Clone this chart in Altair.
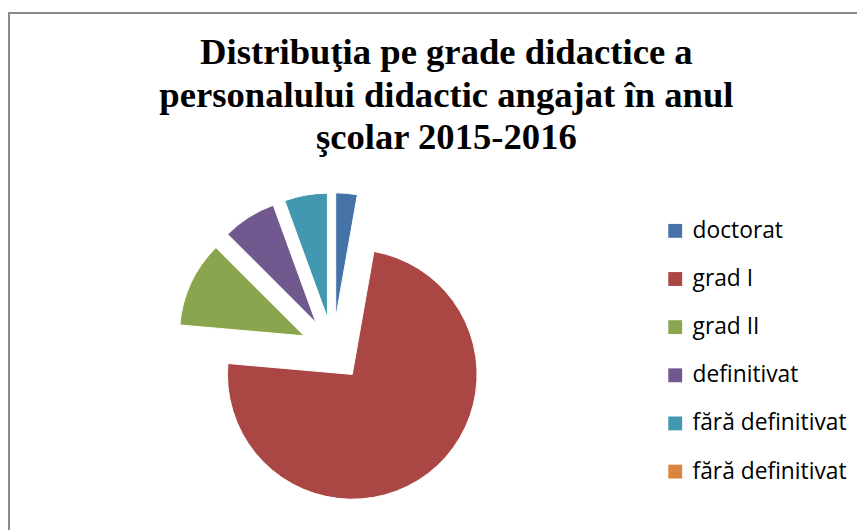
import json
import altair as alt
import pandas as pd

# ---- data ----
names = ["doctorat", "grad I", "grad II", "definitivat", "fără definitivat", "fără definitivat"]
values = [4, 106, 16, 10, 8, 0]
colors = ["#4572A7", "#AA4643", "#89A54E", "#71588F", "#4198AF", "#DB843D"]
title_lines = ["Distribuţia pe grade didactice a",
               "personalului didactic angajat în anul",
               "şcolar 2015-2016"]

keys = [f"k{i}" for i in range(len(names))]
df = pd.DataFrame({"key": keys, "name": names, "value": values, "order": list(range(len(names)))})

W, H = 857, 522
CX, CY, R, EXPLODE = 328, 342, 126, 32

label_expr = f"{json.dumps(names, ensure_ascii=False)}[indexof({json.dumps(keys)}, datum.value)]"

pie = (
    alt.Chart(df)
    .transform_joinaggregate(total="sum(value)")
    .transform_window(cum="sum(value)", sort=[alt.SortField("order")], frame=[None, 0])
    .transform_calculate(
        t1="2*PI*datum.cum/datum.total",
        t0="2*PI*(datum.cum-datum.value)/datum.total",
    )
    .transform_calculate(mid="(datum.t0+datum.t1)/2")
    .transform_calculate(
        px=f"{CX}+{EXPLODE}*sin(datum.mid)",
        py=f"{CY}-{EXPLODE}*cos(datum.mid)",
    )
    .mark_arc(radius=R, stroke="white", strokeWidth=1)
    .encode(
        theta=alt.Theta("t0:Q", scale=None, stack=None),
        theta2="t1:Q",
        x=alt.X("px:Q", scale=None, axis=None),
        y=alt.Y("py:Q", scale=None, axis=None),
        color=alt.Color(
            "key:N",
            scale=alt.Scale(domain=keys, range=colors),
            legend=alt.Legend(
                title=None,
                orient="none",
                legendX=662,
                legendY=211,
                symbolType="square",
                symbolSize=196,
                symbolStrokeWidth=0,
                labelFont="Open Sans",
                labelFontSize=23,
                labelColor="#000000",
                labelLimit=300,
                rowPadding=24.6,
                labelOffset=6,
                padding=0,
                labelExpr=label_expr,
            ),
        ),
        order=alt.Order("order:Q"),
    )
)

border = (
    alt.Chart(alt.Data(values=[{"a": 1}]))
    .mark_rect(fill="white", fillOpacity=0, stroke="#8a8a8a", strokeWidth=2)
    .encode(x=alt.value(1), y=alt.value(2.5), x2=alt.value(1200), y2=alt.value(1200))
)

chart = (
    alt.layer(border, pie)
    .properties(
        width=W,
        height=H,
        autosize=alt.AutoSizeParams(type="none"),
        padding=0,
        title=alt.TitleParams(
            text=title_lines,
            font="Liberation Serif",
            fontSize=37,
            fontWeight="bold",
            color="#000000",
            anchor="middle",
            baseline="alphabetic",
            lineHeight=43,
            offset=-177,
            dx=14,
        ),
    )
    .configure_view(stroke=None)
)

chart.save("out.html", embed_options={"renderer": "svg", "actions": False})
